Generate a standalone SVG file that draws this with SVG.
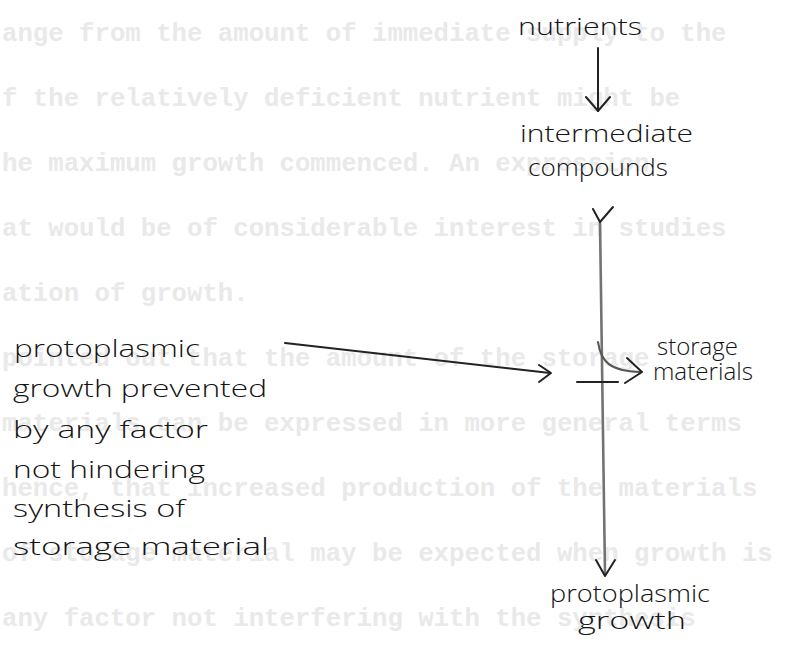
<svg xmlns="http://www.w3.org/2000/svg" width="786" height="651" viewBox="0 0 786 651">
<style>
.bg{font-family:"Liberation Mono","DejaVu Sans Mono",monospace;font-size:25.7px;font-weight:bold;fill:#e9e9e9}
.hw{font-family:"Open Sans","Noto Sans","DejaVu Sans",sans-serif;font-weight:300;font-size:24px;fill:#141414}
.ln{fill:none;stroke:#222;stroke-width:2;stroke-linecap:round;stroke-linejoin:round}
.pn{fill:none;stroke:#737373;stroke-width:2.6;stroke-linecap:round}
</style>
<rect width="786" height="651" fill="#ffffff"/>
<g id="background-text" class="bg">
<text x="2" y="41">ange from the amount of immediate supply to the</text>
<text x="2" y="106">f the relatively deficient nutrient might be</text>
<text x="2" y="171">he maximum growth commenced.   An expression</text>
<text x="2" y="236">at would be of considerable interest in studies</text>
<text x="2" y="301">ation of growth.</text>
<text x="2" y="366">pointed out that the amount of the storage</text>
<text x="2" y="431">materials can be expressed in more general terms</text>
<text x="2" y="496">hence, that increased production of the materials</text>
<text x="2" y="561">of storage material may be expected when growth is</text>
<text x="2" y="626">any factor not interfering with the synthesis</text>
</g>
<g id="connectors">
<path class="ln" d="M598,48 L598,111"/>
<path class="ln" d="M586,97 L598,111 L610,97"/>
<path class="pn" d="M600,222 L605,574"/>
<path class="ln" d="M593,209 L600,222 L613,207"/>
<path class="ln" d="M596,560 L605,576 L615,560"/>
<path class="ln" d="M285,343 L550,373"/>
<path class="ln" d="M539,365 L551,373 L539,382"/>
<path class="ln" d="M577,382 L618,382"/>
<path class="ln" d="M598,342 C601,362 610,371 640,372" style="stroke:#555"/>
<path class="ln" d="M627,358 L642,372 L625,383"/>
</g>
<g id="nutrients" class="hw">
<text x="518" y="35" textLength="124" lengthAdjust="spacingAndGlyphs">nutrients</text>
</g>
<g id="intermediate-compounds" class="hw">
<text x="520" y="142" textLength="173" lengthAdjust="spacingAndGlyphs">intermediate</text>
<text x="528" y="176" textLength="140" lengthAdjust="spacingAndGlyphs">compounds</text>
</g>
<g id="storage-materials" class="hw">
<text x="657" y="355" textLength="81" lengthAdjust="spacingAndGlyphs">storage</text>
<text x="653" y="380" textLength="100" lengthAdjust="spacingAndGlyphs">materials</text>
</g>
<g id="protoplasmic-growth" class="hw">
<text x="550" y="602" textLength="160" lengthAdjust="spacingAndGlyphs">protoplasmic</text>
<text x="578" y="629" textLength="108" lengthAdjust="spacingAndGlyphs">growth</text>
</g>
<g id="condition" class="hw">
<text x="14" y="357" textLength="186" lengthAdjust="spacingAndGlyphs">protoplasmic</text>
<text x="13" y="397" textLength="254" lengthAdjust="spacingAndGlyphs">growth prevented</text>
<text x="13" y="438" textLength="195" lengthAdjust="spacingAndGlyphs">by any factor</text>
<text x="13" y="478" textLength="192" lengthAdjust="spacingAndGlyphs">not hindering</text>
<text x="13" y="517" textLength="172" lengthAdjust="spacingAndGlyphs">synthesis of</text>
<text x="13" y="555" textLength="256" lengthAdjust="spacingAndGlyphs">storage material</text>
</g>
</svg>
